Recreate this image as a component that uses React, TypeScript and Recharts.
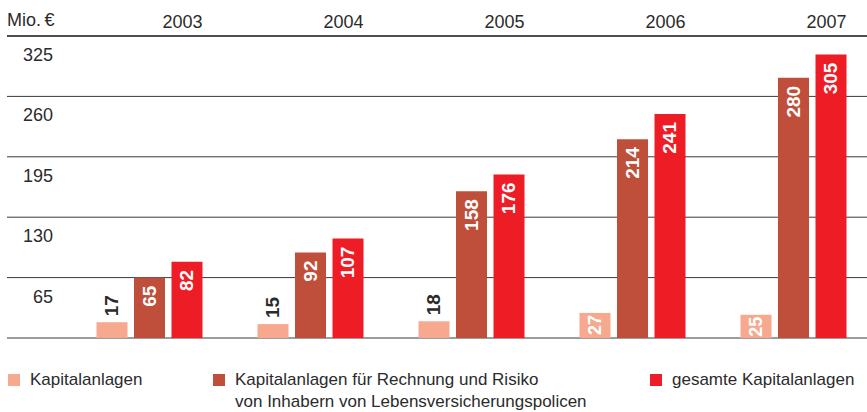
import React from 'react';
import { BarChart, Bar, XAxis, YAxis, CartesianGrid, LabelList } from 'recharts';

const years = ['2003', '2004', '2005', '2006', '2007'];
const kapitalanlagen = [17, 15, 18, 27, 25];
const fondsgebunden = [65, 92, 158, 214, 280];
const gesamt = [82, 107, 176, 241, 305];
const yTicks = [0, 65, 130, 195, 260, 325];
const unitLabel = 'Mio.\u2009€';
const legendNames = [
  ['Kapitalanlagen'],
  ['Kapitalanlagen für Rechnung und Risiko', 'von Inhabern von Lebensversicherungspolicen'],
  ['gesamte Kapitalanlagen'],
];

const LIGHT = '#F6A98F';
const BROWN = '#BF4F3A';
const RED = '#EE1C25';
const TEXT = '#2b2b2b';
const FONT = '"Liberation Sans", Arial, sans-serif';

const data = years.map((y, i) => ({
  year: y,
  a: kapitalanlagen[i],
  b: fondsgebunden[i],
  c: gesamt[i],
}));

const XTick = (props: any) => {
  const { x, payload } = props;
  return (
    <text x={x + 33.5} y={28} textAnchor="middle" fontSize={18} fill={TEXT} fontFamily={FONT}>
      {payload.value}
    </text>
  );
};

const YTick = (props: any) => {
  const { y, payload } = props;
  if (payload.value === 0) return <g />;
  return (
    <text x={53} y={y + 25} textAnchor="end" fontSize={18} fill={TEXT} fontFamily={FONT}>
      {payload.value}
    </text>
  );
};

const BarLabel = (props: any) => {
  const { x, y, width, height, value } = props;
  const cx = x + width / 2;
  let ay = y - 6;
  let anchor = 'start';
  let fill = TEXT;
  let size = 19;
  if (height >= 40) {
    ay = y + 8;
    anchor = 'end';
    fill = '#fff';
  } else if (height >= 22) {
    ay = y + 2;
    anchor = 'end';
    fill = '#fff';
    size = 18;
  }
  return (
    <text
      x={cx}
      y={ay}
      transform={`rotate(-90 ${cx} ${ay})`}
      textAnchor={anchor}
      dominantBaseline="central"
      fontSize={size}
      fontWeight="bold"
      fill={fill}
      fontFamily={FONT}
    >
      {value}
    </text>
  );
};

const LegendItem = ({ color, lines, left }: { color: string; lines: string[]; left: number }) => (
  <div style={{ position: 'absolute', left, top: 369 }}>
    <div style={{ position: 'absolute', left: 0, top: 5, width: 12, height: 12, background: color }} />
    <div style={{ position: 'absolute', left: 22, top: 0, whiteSpace: 'nowrap', fontSize: 17, lineHeight: '22px', color: TEXT }}>
      {lines.map((l, i) => (
        <div key={i}>{l}</div>
      ))}
    </div>
  </div>
);

export default function App() {
  return (
    <div style={{ position: 'absolute', left: 0, top: 0, width: 867, height: 412, fontFamily: FONT, background: '#fff', overflow: 'hidden' }}>
      <div style={{ position: 'absolute', left: 7, top: 9, fontSize: 18, color: TEXT, lineHeight: '22px' }}>{unitLabel}</div>
      <div style={{ position: 'absolute', left: 0, top: 0 }}>
        <BarChart width={867} height={350} data={data} margin={{ top: 6, right: 0, bottom: 12, left: 7 }} barSize={31} barGap={6.5}>
          <CartesianGrid horizontal vertical={false} stroke="#3a3a3a" strokeWidth={1} />
          <XAxis
            dataKey="year"
            orientation="top"
            height={30}
            axisLine={{ stroke: '#333', strokeWidth: 1.3 }}
            tickLine={false}
            tick={<XTick />}
            padding={{ left: 61.5, right: -6.5 }}
            interval={0}
          />
          <YAxis
            domain={[0, 325]}
            ticks={yTicks}
            width={1}
            mirror
            axisLine={false}
            tickLine={false}
            tick={<YTick />}
            interval={0}
          />
          <Bar dataKey="a" fill={LIGHT} isAnimationActive={false}>
            <LabelList dataKey="a" content={<BarLabel />} />
          </Bar>
          <Bar dataKey="b" fill={BROWN} isAnimationActive={false}>
            <LabelList dataKey="b" content={<BarLabel />} />
          </Bar>
          <Bar dataKey="c" fill={RED} isAnimationActive={false}>
            <LabelList dataKey="c" content={<BarLabel />} />
          </Bar>
        </BarChart>
      </div>
      <LegendItem color={LIGHT} lines={legendNames[0]} left={8} />
      <LegendItem color={BROWN} lines={legendNames[1]} left={213} />
      <LegendItem color={RED} lines={legendNames[2]} left={650} />
    </div>
  );
}
